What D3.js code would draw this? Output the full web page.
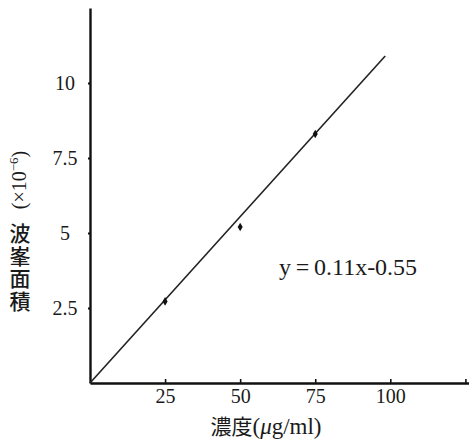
<!DOCTYPE html>
<html>
<head>
<meta charset="utf-8">
<script src="https://cdn.jsdelivr.net/npm/d3@7"></script>
<style>
  html, body { margin: 0; padding: 0; background: #fff; }
  svg { display: block; }
  .tick text { font-family: "Liberation Serif", serif; fill: #1a1a1a; }
</style>
</head>
<body>
<div id="chart"></div>
<script>
// calibration points
const concentrations = [25, 50, 75];
const peakAreas = [2.72, 5.2, 8.3];
// fitted line end points
const fitX = [0, 98.3];
const fitY = [0, 10.9];
const xTicks = [25, 50, 75, 100, 125];
const xTickLabels = ['25', '50', '75', '100', ''];
const yTicks = [2.5, 5, 7.5, 10];
const yTickLabels = ['2.5', '5', '7.5', '10'];
const equation = 'y\u2009=\u20090.11x-0.55';

const width = 469, height = 441;
const margin = { top: 8, right: 0, bottom: 58, left: 90 };

const svg = d3.select('#chart')
  .append('svg')
  .attr('width', width)
  .attr('height', height)
  .attr('viewBox', '0 0 ' + width + ' ' + height);

const x = d3.scaleLinear().domain([0, 126.2]).range([margin.left, width - margin.right]);
const y = d3.scaleLinear().domain([0, 12.5]).range([383, margin.top]);

// x axis
const xAxis = svg.append('g')
  .attr('transform', 'translate(0,' + y(0) + ')')
  .call(d3.axisBottom(x)
    .tickValues(xTicks)
    .tickFormat((d, i) => xTickLabels[i])
    .tickSizeInner(-4)
    .tickSizeOuter(0)
    .tickPadding(10));
xAxis.select('.domain').attr('stroke', '#111').attr('stroke-width', 2.4);
xAxis.selectAll('.tick line').attr('stroke', '#111').attr('stroke-width', 1.6);
xAxis.selectAll('.tick text').attr('font-size', 20).attr('dy', '0.5em');

// y axis
const yAxis = svg.append('g')
  .attr('transform', 'translate(' + x(0) + ',0)')
  .call(d3.axisLeft(y)
    .tickValues(yTicks)
    .tickFormat((d, i) => yTickLabels[i])
    .tickSizeInner(2)
    .tickSizeOuter(0)
    .tickPadding(0));
yAxis.select('.domain').attr('stroke', '#111').attr('stroke-width', 2.4);
yAxis.selectAll('.tick line').attr('stroke', '#111').attr('stroke-width', 2);
yAxis.selectAll('.tick text')
  .attr('font-size', 20)
  .attr('text-anchor', 'middle')
  .attr('x', -25);

// fitted line
const line = d3.line()
  .x(d => x(d[0]))
  .y(d => y(d[1]));
svg.append('path')
  .datum(d3.zip(fitX, fitY))
  .attr('d', line)
  .attr('fill', 'none')
  .attr('stroke', '#222')
  .attr('stroke-width', 1.6);

// data points
svg.selectAll('.pt')
  .data(d3.zip(concentrations, peakAreas))
  .enter().append('path')
  .attr('class', 'pt')
  .attr('transform', d => 'translate(' + x(d[0]) + ',' + y(d[1]) + ')')
  .attr('d', d3.symbol(d3.symbolDiamond, 22))
  .attr('fill', '#111');

// equation
svg.append('text')
  .attr('x', 348)
  .attr('y', 275)
  .attr('text-anchor', 'middle')
  .attr('font-family', '"Liberation Serif", serif')
  .attr('font-size', 24)
  .attr('fill', '#1a1a1a')
  .text(equation);

// x axis title
const xt = svg.append('text')
  .attr('x', 266)
  .attr('y', 434)
  .attr('text-anchor', 'middle')
  .attr('font-size', 21)
  .attr('fill', '#1a1a1a');
xt.append('tspan').attr('font-family', '"Noto Sans CJK JP", sans-serif').text('濃度');
xt.append('tspan').attr('font-family', '"Liberation Serif", serif').attr('font-size', 23).text('(');
xt.append('tspan').attr('font-family', '"Liberation Serif", serif').attr('font-size', 23).attr('font-style', 'italic').text('μ');
xt.append('tspan').attr('font-family', '"Liberation Serif", serif').attr('font-size', 23).text('g/ml)');

// y axis title: upright CJK characters in vertical writing, unit rotated above
svg.append('text')
  .attr('x', 20)
  .attr('y', 223)
  .style('writing-mode', 'vertical-rl')
  .style('text-orientation', 'upright')
  .attr('font-family', '"Noto Sans CJK JP", sans-serif')
  .attr('font-weight', 500)
  .attr('font-size', 21)
  .attr('letter-spacing', 1.5)
  .attr('fill', '#1a1a1a')
  .text('波峯面積');

const unit = svg.append('text')
  .attr('transform', 'translate(26,180) rotate(-90)')
  .attr('text-anchor', 'middle')
  .attr('font-family', '"Liberation Serif", serif')
  .attr('font-size', 20)
  .attr('fill', '#1a1a1a');
unit.append('tspan').text('(×10');
unit.append('tspan').attr('font-size', 13).attr('dy', -8).text('−6');
unit.append('tspan').attr('dy', 8).text(')');
</script>
</body>
</html>
